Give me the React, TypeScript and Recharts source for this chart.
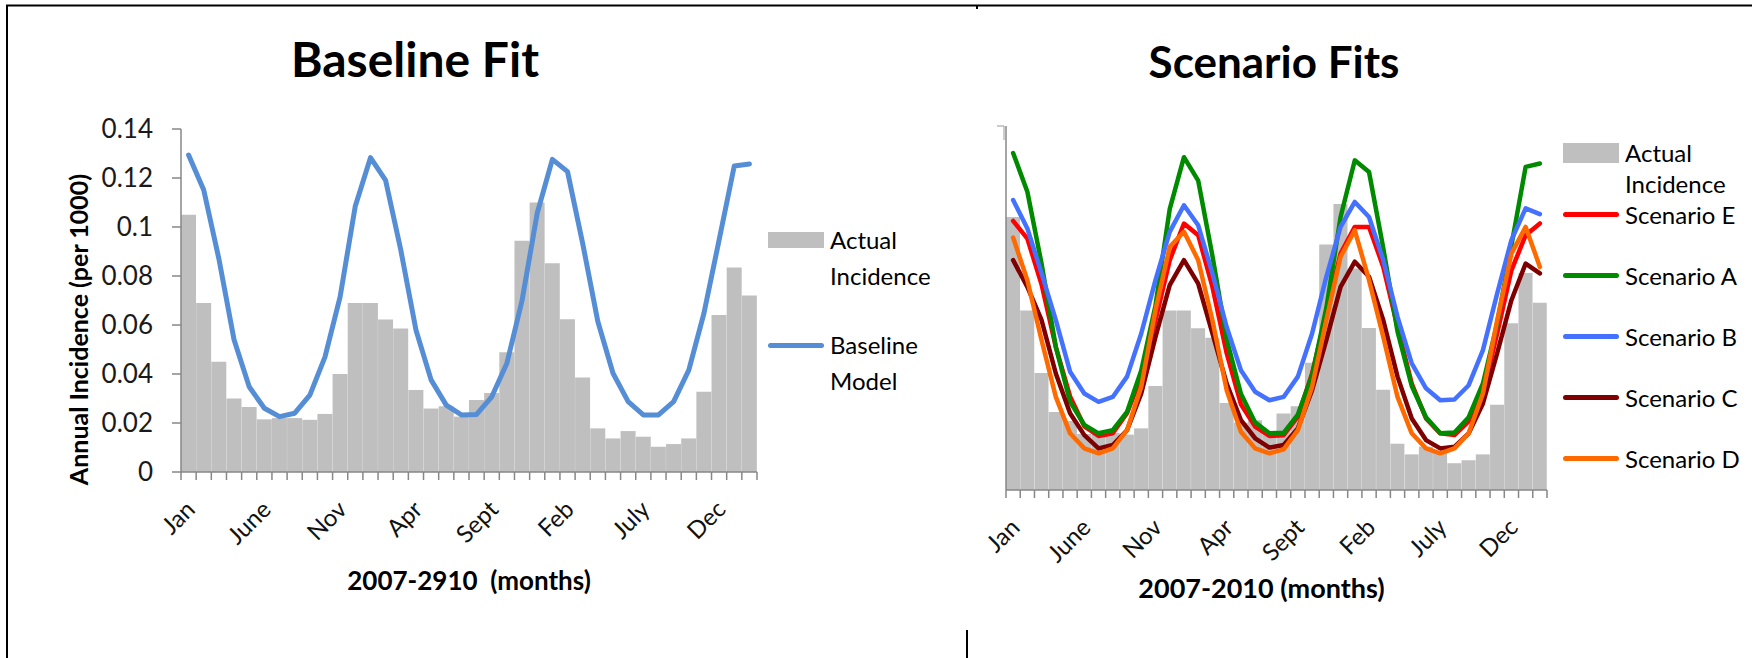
import { ComposedChart, Bar, Line, XAxis, YAxis, Legend } from "recharts"

// Jan 2007 .. Feb 2010, one bar per month
const months = [
  "Jan 2007", "Feb 2007", "Mar 2007", "Apr 2007", "May 2007", "June 2007",
  "July 2007", "Aug 2007", "Sept 2007", "Oct 2007", "Nov 2007", "Dec 2007",
  "Jan 2008", "Feb 2008", "Mar 2008", "Apr 2008", "May 2008", "June 2008",
  "July 2008", "Aug 2008", "Sept 2008", "Oct 2008", "Nov 2008", "Dec 2008",
  "Jan 2009", "Feb 2009", "Mar 2009", "Apr 2009", "May 2009", "June 2009",
  "July 2009", "Aug 2009", "Sept 2009", "Oct 2009", "Nov 2009", "Dec 2009",
  "Jan 2010", "Feb 2010",
]

const actualIncidence = [
  0.105, 0.069, 0.045, 0.03, 0.0265, 0.0215, 0.022, 0.022, 0.0213, 0.0237,
  0.04, 0.069, 0.069, 0.0622, 0.0586, 0.0335, 0.0259, 0.0268, 0.0226, 0.0294,
  0.0322, 0.0489, 0.0944, 0.11, 0.0852, 0.0623, 0.0386, 0.0178, 0.0137, 0.0167,
  0.0144, 0.0103, 0.0114, 0.0137, 0.0328, 0.0641, 0.0835, 0.072,
]

const baselineModel = [
  0.1294, 0.1151, 0.087, 0.054, 0.0348, 0.026, 0.0226, 0.024, 0.0314, 0.047,
  0.0716, 0.1086, 0.1283, 0.119, 0.0906, 0.058, 0.0376, 0.0273, 0.0233, 0.0235,
  0.0307, 0.0444, 0.07, 0.1056, 0.1276, 0.1226, 0.0933, 0.0614, 0.0403, 0.0287,
  0.0233, 0.0233, 0.0287, 0.0416, 0.0648, 0.0947, 0.1249, 0.1257,
]

const scenarioA = [
  0.1296, 0.1147, 0.087, 0.055, 0.034, 0.025, 0.0218, 0.023, 0.03, 0.046,
  0.071, 0.108, 0.128, 0.119, 0.09, 0.058, 0.037, 0.026, 0.0218, 0.022,
  0.029, 0.044, 0.07, 0.105, 0.1268, 0.1223, 0.093, 0.061, 0.04, 0.028,
  0.0218, 0.0221, 0.028, 0.041, 0.064, 0.094, 0.1243, 0.1256,
]

const scenarioB = [
  0.1115, 0.1006, 0.0833, 0.0653, 0.0455, 0.0371, 0.0339, 0.0358, 0.0436, 0.0602,
  0.0807, 0.0993, 0.1095, 0.1018, 0.0833, 0.0627, 0.0461, 0.0378, 0.0345, 0.0358,
  0.0436, 0.0602, 0.082, 0.1012, 0.1108, 0.105, 0.0884, 0.0666, 0.0487, 0.0391,
  0.0345, 0.0348, 0.0403, 0.0538, 0.0756, 0.0961, 0.1083, 0.1061,
]

const scenarioC = [
  0.0884, 0.0781, 0.0653, 0.0448, 0.0295, 0.0211, 0.016, 0.0173, 0.023, 0.0371,
  0.0589, 0.0788, 0.0884, 0.0794, 0.0602, 0.0409, 0.0269, 0.0199, 0.0163, 0.0173,
  0.0237, 0.0384, 0.0576, 0.0781, 0.0878, 0.082, 0.0653, 0.0436, 0.0275, 0.0192,
  0.016, 0.0166, 0.0218, 0.0333, 0.0526, 0.073, 0.0871, 0.0833,
]

const scenarioD = [
  0.0971, 0.0807, 0.0576, 0.0358, 0.0218, 0.016, 0.0141, 0.016, 0.023, 0.0397,
  0.0692, 0.0935, 0.0993, 0.0884, 0.0653, 0.0384, 0.0224, 0.016, 0.0141, 0.0156,
  0.023, 0.0397, 0.0653, 0.0897, 0.0999, 0.0807, 0.0589, 0.0358, 0.0218, 0.016,
  0.0141, 0.016, 0.0218, 0.0371, 0.0653, 0.0909, 0.1012, 0.0858,
]

const scenarioE = [
  0.1035, 0.0967, 0.079, 0.055, 0.036, 0.0245, 0.0208, 0.0218, 0.0295, 0.0436,
  0.0653, 0.0884, 0.1025, 0.098, 0.0781, 0.0526, 0.033, 0.0244, 0.0208, 0.0211,
  0.0282, 0.0448, 0.0679, 0.0909, 0.1012, 0.1012, 0.0858, 0.0627, 0.0409, 0.0275,
  0.0218, 0.0211, 0.0264, 0.0371, 0.0602, 0.0845, 0.098, 0.1025,
]

const yTicks = [0, 0.02, 0.04, 0.06, 0.08, 0.1, 0.12, 0.14]
const labelEvery = 5

const data = months.map((month, i) => ({
  month,
  actual: actualIncidence[i],
  baseline: baselineModel[i],
  a: scenarioA[i],
  b: scenarioB[i],
  c: scenarioC[i],
  d: scenarioD[i],
  e: scenarioE[i],
}))

// legend order in the right chart: E, A, B, C, D
const scenarios = [
  { key: "e", name: "Scenario E", color: "#FF0000" },
  { key: "a", name: "Scenario A", color: "#008A00" },
  { key: "b", name: "Scenario B", color: "#4472FF" },
  { key: "c", name: "Scenario C", color: "#7F0000" },
  { key: "d", name: "Scenario D", color: "#FF6A00" },
]
const legendOrder = ["actual", "baseline", ...scenarios.map((s) => s.key)]

const FONT = "Lato, 'Open Sans', sans-serif"
const AXIS = "#878787"
const BAR = "#BFBFBF"

function MonthTick(props: any) {
  const { x, y, payload, half } = props
  const i = props.index ?? payload.index
  const label = i % labelEvery === 0 ? String(payload.value).split(" ")[0] : ""
  const lx = x + 8
  const ly = y + 39
  return (
    <g>
      <line x1={x - half} x2={x - half} y1={y} y2={y + 8} stroke={AXIS} strokeWidth={1.5} />
      {i === months.length - 1 && (
        <line x1={x + half} x2={x + half} y1={y} y2={y + 8} stroke={AXIS} strokeWidth={1.5} />
      )}
      {label && (
        <text
          x={lx}
          y={ly}
          transform={`rotate(-45, ${lx}, ${ly})`}
          textAnchor="end"
          fontFamily={FONT}
          fontSize={24}
          fill="#111"
        >
          {label}
        </text>
      )}
    </g>
  )
}

function LegendList({ payload, lineHeight, gap, boxHeight }: any) {
  const items = [...(payload || [])].sort(
    (p: any, q: any) => legendOrder.indexOf(p.dataKey) - legendOrder.indexOf(q.dataKey)
  )
  return (
    <div style={{ fontFamily: FONT, fontSize: 24, color: "#000" }}>
      {items.map((p: any, i: number) => (
        <div
          key={i}
          style={{
            display: "flex",
            alignItems: "flex-start",
            marginBottom: gap(i),
          }}
        >
          <div style={{ width: 56, height: lineHeight, display: "flex", alignItems: "center" }}>
            {p.type === "rect" ? (
              <div style={{ width: 56, height: boxHeight, background: p.color }} />
            ) : (
              <div style={{ width: 56, height: 5, borderRadius: 3, background: p.color }} />
            )}
          </div>
          <div style={{ marginLeft: 6, width: 135, lineHeight: `${lineHeight}px` }}>{p.value}</div>
        </div>
      ))}
    </div>
  )
}

function axisTitle(text: string, size: number, dx: number) {
  return {
    content: ({ viewBox }: any) => (
      <text
        x={viewBox.x + viewBox.width / 2 + dx}
        y={viewBox.y + viewBox.height}
        textAnchor="middle"
        fontFamily={FONT}
        fontSize={size}
        fontWeight={700}
        fill="#000"
        style={{ whiteSpace: "pre" }}
      >
        {text}
      </text>
    ),
  }
}

function BaselineChart() {
  const margin = { top: 129, right: 203, bottom: 68, left: 101 }
  const width = 960
  const yAxisWidth = 80
  const half = (width - margin.left - margin.right - yAxisWidth) / months.length / 2
  return (
    <ComposedChart width={width} height={658} data={data} margin={margin} barCategoryGap={0}>
      <XAxis
        dataKey="month"
        interval={0}
        height={118}
        tickSize={0}
        tickMargin={0}
        tickLine={false}
        axisLine={{ stroke: AXIS, strokeWidth: 1.5 }}
        tick={(p: any) => <MonthTick {...p} half={half} />}
        label={axisTitle("2007-2910  (months)", 26, 0)}
      />
      <YAxis
        width={yAxisWidth}
        domain={[0, 0.14]}
        ticks={yTicks}
        tickSize={9}
        tickMargin={19}
        axisLine={{ stroke: AXIS, strokeWidth: 1.5 }}
        tickLine={{ stroke: AXIS, strokeWidth: 1.5 }}
        tick={{ fontFamily: FONT, fontSize: 26, fill: "#1a1a1a" }}
        tickFormatter={(v: number) => String(Number(v.toFixed(2)))}
        label={{
          content: ({ viewBox }: any) => {
            const cx = viewBox.x - 23
            const cy = viewBox.y + viewBox.height / 2 + 29
            return (
              <text
                x={cx}
                y={cy}
                transform={`rotate(-90, ${cx}, ${cy})`}
                textAnchor="middle"
                dominantBaseline="central"
                fontFamily={FONT}
                fontSize={25}
                fontWeight={700}
                fill="#000"
              >
                Annual Incidence (per 1000)
              </text>
            )
          },
        }}
      />
      <Bar dataKey="actual" name="Actual Incidence" fill={BAR} legendType="rect" isAnimationActive={false} />
      <Line
        dataKey="baseline"
        name="Baseline Model"
        type="linear"
        stroke="#558ED5"
        strokeWidth={5}
        strokeLinecap="round"
        strokeLinejoin="round"
        dot={false}
        legendType="line"
        isAnimationActive={false}
      />
      <Legend
        layout="vertical"
        align="center"
        verticalAlign="middle"
        wrapperStyle={{ left: 768, top: 222, width: 220 }}
        content={(p: any) => (
          <LegendList payload={p.payload} lineHeight={36} boxHeight={16} gap={() => 33} />
        )}
      />
    </ComposedChart>
  )
}

function ScenarioChart() {
  const margin = { top: 126, right: 207, bottom: 60, left: 36 }
  const width = 794
  const yAxisWidth = 10
  const half = (width - margin.left - margin.right - yAxisWidth) / months.length / 2
  return (
    <ComposedChart width={width} height={658} data={data} margin={margin} barCategoryGap={0}>
      <XAxis
        dataKey="month"
        interval={0}
        height={108}
        tickSize={0}
        tickMargin={0}
        tickLine={false}
        axisLine={{ stroke: AXIS, strokeWidth: 1.5 }}
        tick={(p: any) => <MonthTick {...p} half={half} />}
        label={axisTitle("2007-2010 (months)", 27, -15)}
      />
      <YAxis
        width={yAxisWidth}
        domain={[0, 0.14]}
        ticks={yTicks}
        tickSize={9}
        tick={false}
        axisLine={{ stroke: AXIS, strokeWidth: 1.5 }}
        tickLine={{ stroke: AXIS, strokeWidth: 1.5 }}
      />
      <Bar dataKey="actual" name="Actual Incidence" fill={BAR} legendType="rect" isAnimationActive={false} />
      {scenarios.map((s) => (
        <Line
          key={s.key}
          dataKey={s.key}
          name={s.name}
          type="linear"
          stroke={s.color}
          strokeWidth={4.5}
          strokeLinecap="round"
          strokeLinejoin="round"
          dot={false}
          legendType="line"
          isAnimationActive={false}
        />
      ))}
      <Legend
        layout="vertical"
        align="center"
        verticalAlign="middle"
        wrapperStyle={{ left: 603, top: 137, width: 200 }}
        content={(p: any) => (
          <LegendList payload={p.payload} lineHeight={31} boxHeight={20} gap={(i: number) => (i === 0 ? 0 : 30)} />
        )}
      />
    </ComposedChart>
  )
}

export default function App() {
  return (
    <div style={{ position: "absolute", left: 0, top: 0, width: 1754, height: 658, background: "#fff", overflow: "hidden" }}>
      <div style={{ position: "absolute", left: 0, top: 0 }}>
        <BaselineChart />
      </div>
      <div style={{ position: "absolute", left: 960, top: 0 }}>
        <ScenarioChart />
      </div>
      <svg
        width={1754}
        height={658}
        style={{ position: "absolute", left: 0, top: 0, pointerEvents: "none" }}
      >
        <line x1={6} x2={1752} y1={5.5} y2={5.5} stroke="#000" strokeWidth={2} />
        <line x1={7} x2={7} y1={5} y2={658} stroke="#000" strokeWidth={2} />
        <line x1={977} x2={977} y1={5} y2={9} stroke="#000" strokeWidth={2} />
        <line x1={967} x2={967} y1={630} y2={658} stroke="#000" strokeWidth={2} />
        <polyline points="997,126 1004,126 1004,140" fill="none" stroke="#999" strokeWidth={1} />
        <text x={415} y={77} textAnchor="middle" fontFamily={FONT} fontSize={48} fontWeight={700} fill="#000">
          Baseline Fit
        </text>
        <text x={1274} y={78} textAnchor="middle" fontFamily={FONT} fontSize={44} fontWeight={700} fill="#000">
          Scenario Fits
        </text>
      </svg>
    </div>
  )
}
